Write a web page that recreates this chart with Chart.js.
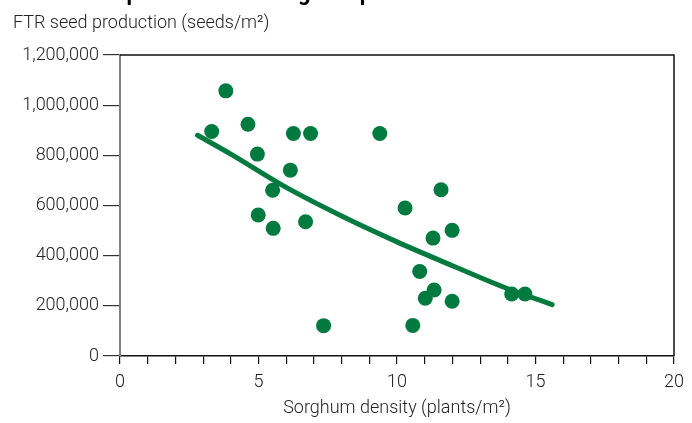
<!DOCTYPE html>
<html>
<head>
<meta charset="utf-8">
<script src="https://cdn.jsdelivr.net/npm/chart.js@4"></script>
<style>
  body { margin: 0; background: #fff; }
  #wrap { width: 692px; height: 423px; }
</style>
</head>
<body>
<div id="wrap"><canvas id="chart" width="692" height="423"></canvas></div>
<script>
// scatter points: sorghum density vs FTR seeds
const densityX = [3.82, 3.31, 4.62, 6.26, 6.88, 4.96, 6.15, 5.51, 4.99, 5.53, 6.70, 7.35,
                  9.38, 11.59, 10.29, 11.99, 11.30, 10.82, 11.34, 11.02, 11.99, 10.57, 14.14, 14.62];
const seedsY = [1057000, 895000, 924000, 887000, 887000, 805000, 741000, 661000, 562000, 509000, 535000, 121000,
                887000, 663000, 590000, 501000, 470000, 337000, 263000, 230000, 218000, 122000, 247000, 247000];

// fitted trend line
const fitX = [2.8, 4, 6, 8, 10, 12, 14, 15.6];
const fitY = [880000, 805000, 672000, 558000, 455000, 360000, 268000, 205000];

const xTicks = [0, 5, 10, 15, 20];

const green = '#007a3e';
const font = { family: 'Roboto', weight: '300', size: 18 };

const framePlugin = {
  id: 'frame',
  afterDraw(chart) {
    const { ctx, chartArea } = chart;
    ctx.save();
    ctx.strokeStyle = '#111';
    ctx.lineWidth = 1.5;
    ctx.beginPath();
    ctx.moveTo(chartArea.left, chartArea.top);
    ctx.lineTo(chartArea.right, chartArea.top);
    ctx.lineTo(chartArea.right, chartArea.bottom);
    ctx.stroke();

    // heading, cut off at the top of the picture, and the y axis title
    ctx.fillStyle = '#000';
    ctx.textBaseline = 'alphabetic';
    ctx.font = 'bold 22px Roboto';
    ctx.fillText('FTR seed production vs sorghum plants.', 28, 0);
    ctx.fillStyle = '#222';
    ctx.font = '300 18px Roboto';
    ctx.fillText('FTR seed production (seeds/m\u00b2)', 13, 28);
    ctx.restore();
  }
};

const points = densityX.map((x, i) => ({ x: x, y: seedsY[i] }));
const fit = fitX.map((x, i) => ({ x: x, y: fitY[i] }));

new Chart(document.getElementById('chart'), {
  type: 'scatter',
  data: {
    datasets: [
      {
        label: 'Fit',
        type: 'line',
        data: fit,
        borderColor: green,
        borderWidth: 5,
        borderCapStyle: 'round',
        pointRadius: 0,
        cubicInterpolationMode: 'monotone',
        fill: false
      },
      {
        label: 'Sites',
        data: points,
        backgroundColor: green,
        borderWidth: 0,
        pointRadius: 7.5,
        pointHoverRadius: 7.5
      }
    ]
  },
  options: {
    responsive: false,
    animation: false,
    layout: { padding: { top: 55, right: 18, left: 0, bottom: 0 } },
    plugins: {
      legend: { display: false },
      tooltip: { enabled: false }
    },
    scales: {
      x: {
        type: 'linear',
        min: 0,
        max: 20,
        afterFit(scale) { scale.height = 67; },
        border: { color: '#111', width: 1.5 },
        grid: { drawOnChartArea: false, drawTicks: true, tickLength: 8, color: '#111', lineWidth: 1.2 },
        ticks: {
          stepSize: 1,
          autoSkip: false,
          maxRotation: 0,
          padding: 8,
          color: '#222',
          font: font,
          callback: (v) => xTicks.includes(v) ? String(v) : ''
        },
        title: {
          display: true,
          text: 'Sorghum density (plants/m\u00b2)',
          color: '#222',
          font: font,
          padding: { top: 0, bottom: 4 }
        }
      },
      y: {
        min: 0,
        max: 1200000,
        afterFit(scale) { scale.width = 120; },
        border: { color: '#808080', width: 2 },
        grid: { drawOnChartArea: false, drawTicks: true, tickLength: 17, color: '#333', lineWidth: 1.2 },
        ticks: {
          stepSize: 200000,
          padding: 4,
          color: '#222',
          font: font,
          callback: (v) => v.toLocaleString('en-US')
        }
      }
    }
  },
  plugins: [framePlugin]
});
</script>
</body>
</html>
